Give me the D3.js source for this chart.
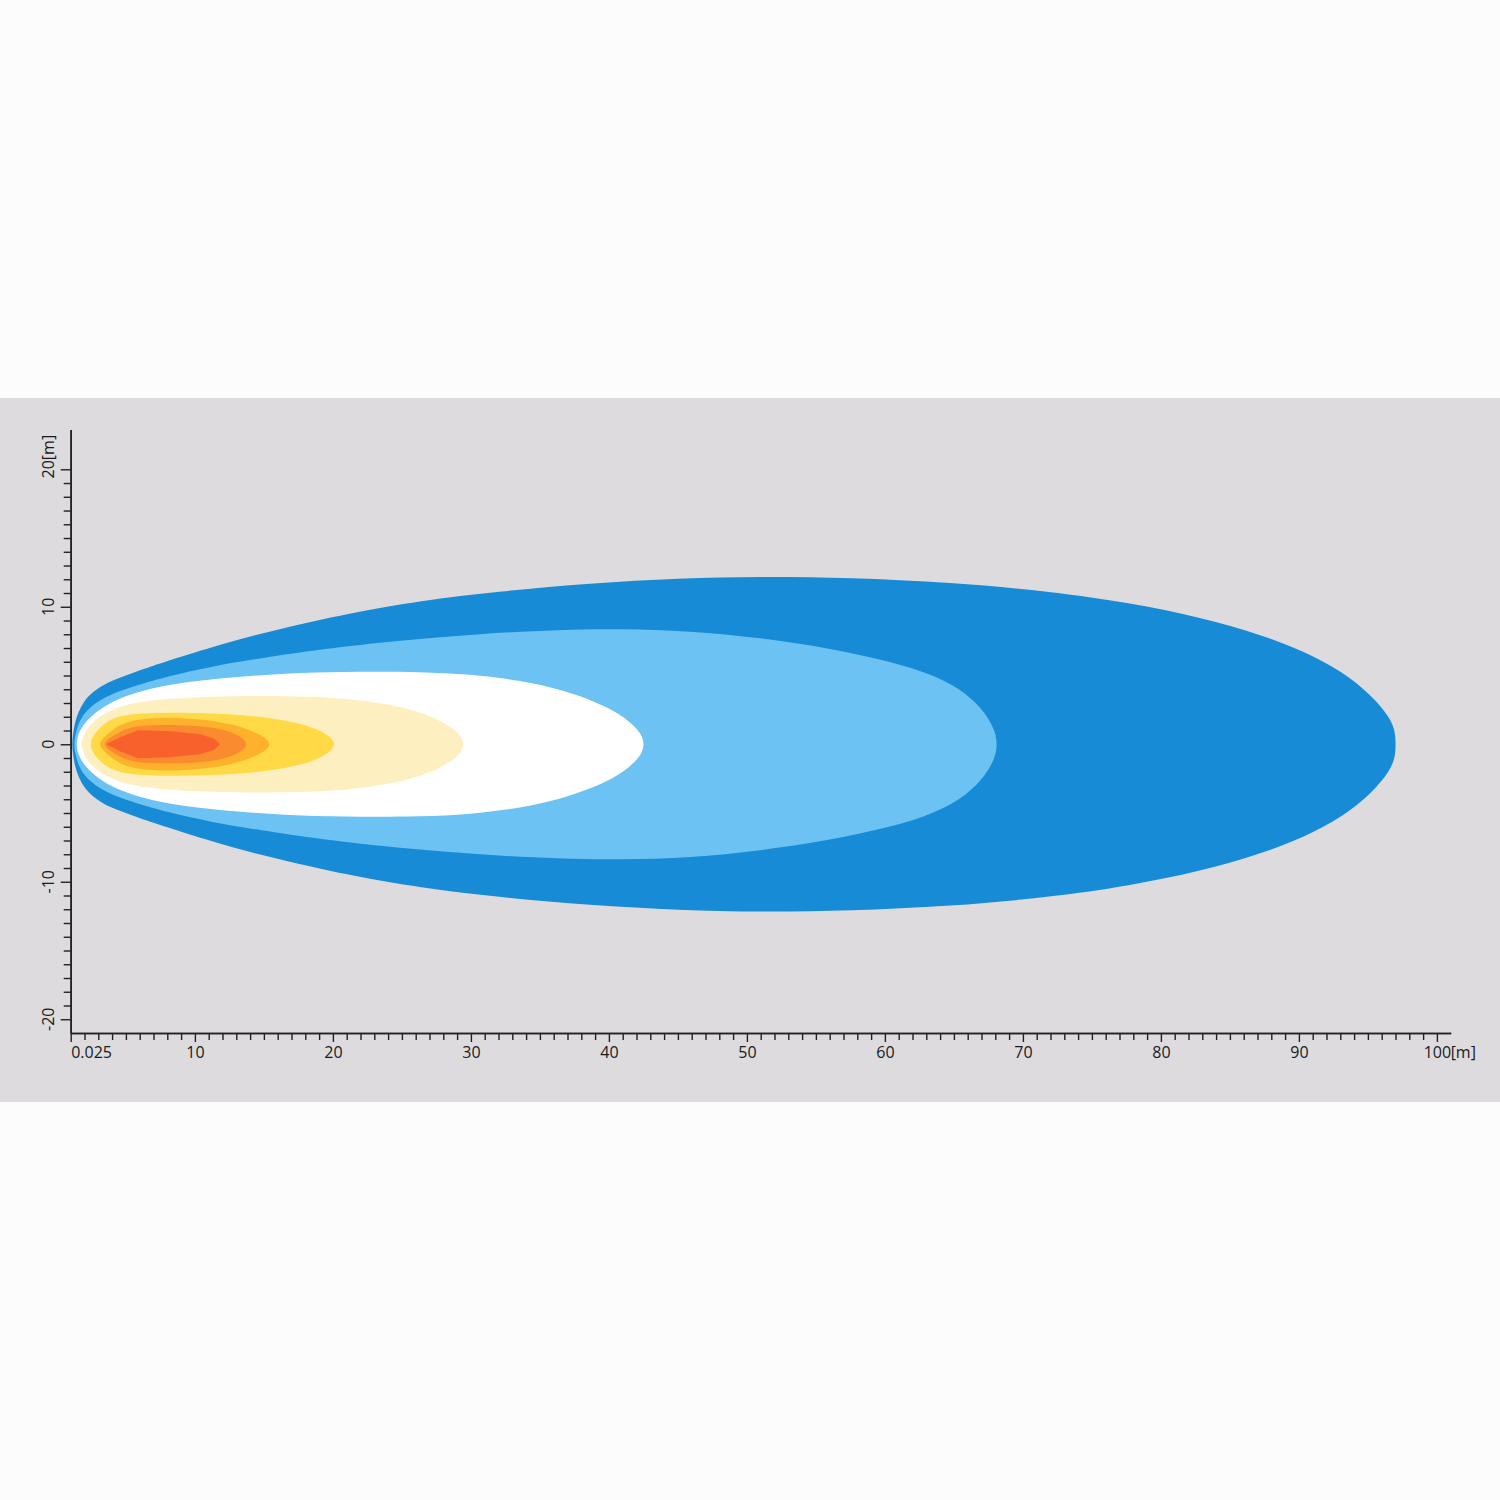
<!DOCTYPE html>
<html>
<head>
<meta charset="utf-8">
<script src="https://cdn.jsdelivr.net/npm/d3@7"></script>
<style>
  body { margin: 0; background: #fcfcfc; }
  text { font-family: 'Open Sans', sans-serif; fill: #1a1a1a; }
</style>
</head>
<body>
<div id="chart"></div>
<script>
// isolux contours, upper half only [distance m, half width m], mirrored about 0
let zoneNames = ['0.25 lx', '0.5 lx', '1 lx', '3 lx', '5 lx', '10 lx', '20 lx', '40 lx']

let zoneColors = ['#178bd5', '#6bc2f3', '#ffffff', '#feefc1', '#ffd946', '#fdb12c', '#fa8b2e', '#f8612b']

let zone1 = [
  [1.09, 0], [1.17, 0.8], [1.31, 1.6], [1.57, 2.4], [1.96, 3.13], [2.54, 3.78], [3.41, 4.36],
  [4.43, 4.8], [5.66, 5.25], [6.75, 5.64], [9.28, 6.45], [13.27, 7.68], [17.62, 8.73],
  [21.24, 9.53], [26.31, 10.44], [32.11, 11.13], [38.64, 11.71], [45.16, 12.07], [50.96, 12.2],
  [57.47, 12.11], [64.72, 11.78], [71.96, 11.13], [77.76, 10.29], [82.83, 9.24], [87.3, 7.98],
  [91.1, 6.45], [93.8, 4.85], [95.7, 3.1], [96.8, 1.6], [97.0, 0.6], [97.0, 0]
]
let zone2 = [
  [1.24, 0], [1.31, 0.58], [1.49, 1.31], [1.82, 2.04], [2.4, 2.69], [3.2, 3.27], [4.43, 3.85],
  [5.66, 4.25], [8.05, 4.95], [11.09, 5.64], [14.72, 6.25], [19.07, 6.91], [24.86, 7.56],
  [30.66, 8.04], [36.46, 8.33], [40.81, 8.4], [45.88, 8.25], [50.96, 7.75], [56.03, 6.98],
  [60.38, 6.04], [63.7, 5.0], [65.95, 3.7], [67.35, 2.2], [67.95, 1.0], [68.08, 0.4], [68.1, 0]
]
let zone3 = [
  [1.42, 0], [1.49, 0.51], [1.71, 1.09], [2.18, 1.75], [2.91, 2.4], [3.85, 3.02], [5.3, 3.64],
  [7.47, 4.22], [10.37, 4.65], [13.99, 4.98], [17.62, 5.2], [21.96, 5.29], [26.31, 5.27],
  [29.93, 5.09], [33.56, 4.65], [36.46, 4.0], [38.99, 3.13], [40.85, 2.18], [41.95, 1.24],
  [42.42, 0.58], [42.55, 0]
]
let zone4 = [
  [1.75, 0], [1.9, 0.58], [2.25, 1.24], [2.83, 1.82], [3.7, 2.4], [4.93, 2.87], [6.75, 3.2],
  [9.64, 3.42], [13.99, 3.54], [18.34, 3.49], [21.96, 3.24], [24.86, 2.76], [27.03, 2.11],
  [28.63, 1.24], [29.3, 0.58], [29.52, 0]
]
let zone5 = [
  [2.41, 0], [2.55, 0.51], [2.98, 1.09], [3.63, 1.67], [4.57, 2.07], [6.02, 2.25], [8.92, 2.33],
  [12.54, 2.22], [15.44, 1.93], [17.62, 1.53], [19.07, 1.02], [19.88, 0.47], [20.17, 0]
]
let zone6 = [
  [2.98, 0], [3.41, 0.51], [4.07, 1.09], [4.93, 1.6], [6.38, 1.89], [8.92, 1.93], [11.46, 1.71],
  [13.27, 1.31], [14.5, 0.8], [15.25, 0.36], [15.46, 0]
]
let zone7 = [
  [3.27, 0], [3.85, 0.47], [4.72, 1.02], [5.8, 1.38], [8.92, 1.42], [11.46, 1.24], [12.91, 0.8],
  [13.58, 0.36], [13.76, 0]
]
let zone8 = [
  [3.56, 0], [4.58, 0.51], [5.88, 1.02], [8.2, 0.95], [10.38, 0.73], [11.4, 0.4], [11.82, 0]
]

let xMajor = [1, 10, 20, 30, 40, 50, 60, 70, 80, 90, 100]
let xLabels = ['0.025', '10', '20', '30', '40', '50', '60', '70', '80', '90', '100']
let yMajor = [-20, -10, 0, 10, 20]
let yLabels = ['-20', '-10', '0', '10', '20']
let unitLabel = '[m]'

let zones = [zone1, zone2, zone3, zone4, zone5, zone6, zone7, zone8]

let width = 1500
let height = 1500

let svg = d3
  .select('#chart')
  .append('svg')
  .attr('width', width)
  .attr('height', height)

svg
  .append('rect')
  .attr('width', width)
  .attr('height', height)
  .attr('fill', '#fcfcfc')

svg
  .append('rect')
  .attr('x', 0)
  .attr('y', 398)
  .attr('width', width)
  .attr('height', 704)
  .attr('fill', '#dddbde')

let xPositionScale = d3.scaleLinear().domain([1, 101]).range([70.7, 1450.7])
let yPositionScale = d3.scaleLinear().domain([-21, 22.9]).range([1033, 429.4])

let outline = d3
  .line()
  .x(d => xPositionScale(d[0]))
  .y(d => yPositionScale(d[1]))

function mirrored(points) {
  let lower = points
    .slice(1, points.length - 1)
    .reverse()
    .map(d => [d[0], -d[1]])
  return points.concat(lower)
}

svg
  .selectAll('.zone')
  .data(zones)
  .enter()
  .append('path')
  .attr('class', 'zone')
  .attr('d', (d, i) => {
    // innermost zone keeps its corners
    let curve = i === zones.length - 1 ? d3.curveLinearClosed : d3.curveBasisClosed
    return outline.curve(curve)(mirrored(d))
  })
  .attr('fill', (d, i) => zoneColors[i])
  .append('title')
  .text((d, i) => zoneNames[i])

// axes: minor every metre, major every 10
let xMinor = d3.range(2, 101).filter(d => d % 10 !== 0)
let yMinor = d3.range(-20, 21).filter(d => d % 10 !== 0)

let xAxisMinor = d3
  .axisBottom(xPositionScale)
  .tickValues(xMinor)
  .tickSize(7)
  .tickSizeOuter(0)
  .tickFormat('')

let xAxis = d3
  .axisBottom(xPositionScale)
  .tickValues(xMajor)
  .tickSize(9)
  .tickSizeOuter(0)
  .tickPadding(5)
  .tickFormat((d, i) => xLabels[i])

svg
  .append('g')
  .attr('class', 'axis x-axis-minor')
  .attr('transform', 'translate(0,1033)')
  .call(xAxisMinor)

svg
  .append('g')
  .attr('class', 'axis x-axis')
  .attr('transform', 'translate(0,1033)')
  .call(xAxis)

svg
  .select('.x-axis')
  .selectAll('.tick')
  .filter(d => d === 1)
  .select('text')
  .attr('text-anchor', 'start')

let yAxisMinor = d3
  .axisLeft(yPositionScale)
  .tickValues(yMinor)
  .tickSize(7)
  .tickSizeOuter(0)
  .tickFormat('')

let yAxis = d3
  .axisLeft(yPositionScale)
  .tickValues(yMajor)
  .tickSize(10)
  .tickSizeOuter(0)
  .tickFormat('')

svg
  .append('g')
  .attr('class', 'axis y-axis-minor')
  .attr('transform', 'translate(70.7,0)')
  .call(yAxisMinor)

svg
  .append('g')
  .attr('class', 'axis y-axis')
  .attr('transform', 'translate(70.7,0)')
  .call(yAxis)

svg.selectAll('.axis path').attr('stroke', '#222').attr('stroke-width', 1.6)
svg.selectAll('.axis line').attr('stroke', '#222').attr('stroke-width', 1.4)
svg
  .selectAll('.axis text')
  .attr('font-family', "'Open Sans', sans-serif")
  .attr('font-size', 16)
  .attr('fill', '#1a1a1a')

// rotated y labels
let yText = svg
  .selectAll('.y-label')
  .data(yMajor)
  .enter()
  .append('text')
  .attr('class', 'y-label')
  .attr('transform', d => 'translate(53.5,' + yPositionScale(d) + ') rotate(-90)')
  .attr('text-anchor', 'middle')
  .attr('font-size', 16)
  .text((d, i) => yLabels[i])

// unit after the last number on each axis
let topLabel = yText.filter(d => d === 20)
let topWidth = topLabel.node().getComputedTextLength()
svg
  .append('text')
  .attr('transform', 'translate(53.5,' + yPositionScale(20) + ') rotate(-90)')
  .attr('x', topWidth / 2)
  .attr('font-size', 16)
  .text(unitLabel)

let lastLabel = svg
  .select('.x-axis')
  .selectAll('.tick')
  .filter(d => d === 100)
  .select('text')
let lastWidth = lastLabel.node().getComputedTextLength()
svg
  .append('text')
  .attr('x', xPositionScale(100) + lastWidth / 2)
  .attr('y', 1033 + 9 + 5)
  .attr('dy', '0.71em')
  .attr('font-size', 16)
  .text(unitLabel)
</script>
</body>
</html>
